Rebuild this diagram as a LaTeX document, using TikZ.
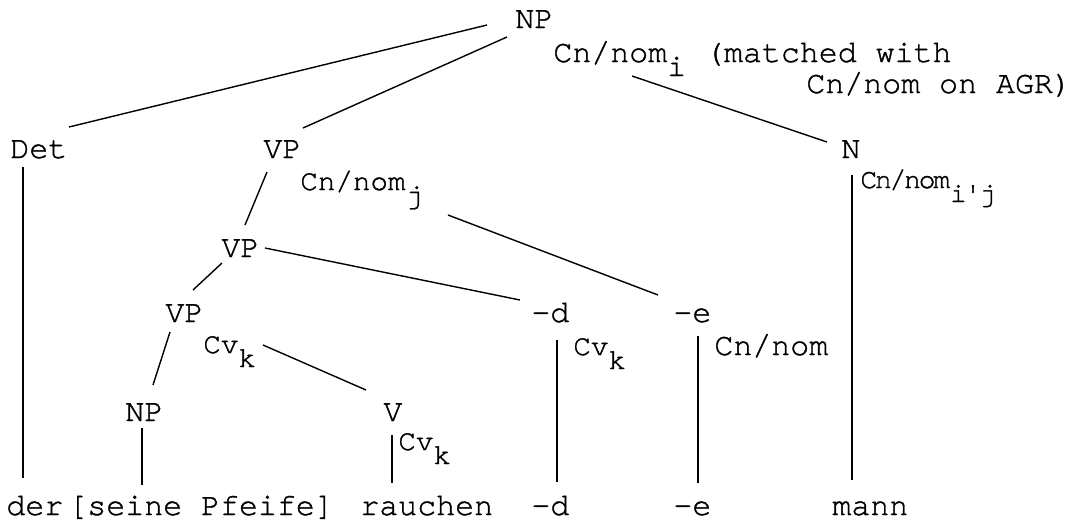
\documentclass[tikz,border=0pt]{standalone}
\usepackage{fontspec}
\newfontfamily\tw{texgyrecursor-regular}[Extension=.otf, FakeBold=1.2]
\newfontfamily\twnarrow{texgyrecursor-regular}[Extension=.otf, FakeBold=1.2, LetterSpace=-8]
\usepackage{tikz}
\usetikzlibrary{calc}
\newcommand\lo[1]{\raisebox{-7pt}{#1}}

\begin{document}
\begin{tikzpicture}[x=0.5pt, y=-0.5pt,
    lbl/.style={anchor=base west, inner sep=0pt,
                font=\tw\fontsize{15.8}{18}\selectfont},
    feat/.style={lbl, font=\tw\fontsize{14.6}{17}\selectfont},
    featsm/.style={lbl, font=\twnarrow\fontsize{14}{16}\selectfont},
    branch/.style={line width=0.7pt}
]
\useasboundingbox (0,0) rectangle (1081,527);
% Top — NP with its agreement feature
\node[lbl] (np0) at (515,28) {NP};
\node[lbl] (fnp) at (553,62) {Cn/nom\lo{i} (matched with};
\node[lbl] (fnpb) at (806,93) {Cn/nom on AGR)};
% Daughters of NP
\node[lbl] (det) at (10,158) {Det};
\node[lbl] (vp1) at (263,158) {VP};
\node[lbl] (n) at (841,158) {N};
\node[feat] (fvp1) at (300,190) {Cn/nom\lo{j}};
\node[featsm] (fn) at (860,188) {Cn/nom\lo{i'j}};
% VP spine
\node[lbl] (vp2) at (221,257) {VP};
\node[lbl] (vp3) at (165,322) {VP};
\node[lbl] (d1) at (531,322) {-d};
\node[lbl] (e1) at (673,322) {-e};
\node[feat] (fvp3) at (203,353) {Cv\lo{k}};
\node[feat] (fd1) at (573,355) {Cv\lo{k}};
\node[lbl] (fe1) at (714,355) {Cn/nom};
\node[lbl] (np2) at (125,421) {NP};
\node[lbl] (v) at (383,421) {V};
\node[feat] (fv) at (398,450) {Cv\lo{k}};
% Words
\node[lbl] (der) at (6,515) {der};
\node[lbl] (pfeife) at (68,515) {[seine Pfeife]};
\node[lbl] (rauchen) at (360,515) {rauchen};
\node[lbl] (d2) at (531,515) {-d};
\node[lbl] (e2) at (673,515) {-e};
\node[lbl] (mann) at (832,515) {mann};
% Branches
\draw[branch] ($(np0.base west)+(-28,-3)$) -- ($(det.base west)+(59,-31)$);
\draw[branch] ($(np0.base west)+(-8,9)$) -- ($(vp1.base west)+(40,-30)$);
\draw[branch] ($(fnp.base west)+(79,14)$) -- ($(n.base west)+(-14,-16)$);
\draw[branch] ($(vp1.base west)+(4,14)$) -- ($(vp2.base west)+(24,-32)$);
\draw[branch] ($(fvp1.base west)+(148,25)$) -- ($(e1.base west)+(-15,-27)$);
\draw[branch] ($(vp2.base west)+(44,-9)$) -- ($(d1.base west)+(-11,-22)$);
\draw[branch] ($(vp2.base west)+(1,6)$) -- ($(vp3.base west)+(28,-32)$);
\draw[branch] ($(vp3.base west)+(5,10)$) -- ($(np2.base west)+(28,-36)$);
\draw[branch] ($(fvp3.base west)+(60,-8)$) -- ($(v.base west)+(-17,-31)$);
% Vertical branches down to the words
\draw[branch] ($(det.base west)+(13,9)$) -- ($(der.base west)+(17,-37)$);
\draw[branch] ($(np2.base west)+(17,7)$) -- ($(pfeife.base west)+(74,-30)$);
\draw[branch] ($(v.base west)+(9,14)$) -- ($(rauchen.base west)+(32,-32)$);
\draw[branch] ($(d1.base west)+(26,18)$) -- ($(d2.base west)+(26,-33)$);
\draw[branch] ($(e1.base west)+(25,14)$) -- ($(e2.base west)+(25,-32)$);
\draw[branch] ($(n.base west)+(11,17)$) -- ($(mann.base west)+(20,-35)$);
\end{tikzpicture}
\end{document}
